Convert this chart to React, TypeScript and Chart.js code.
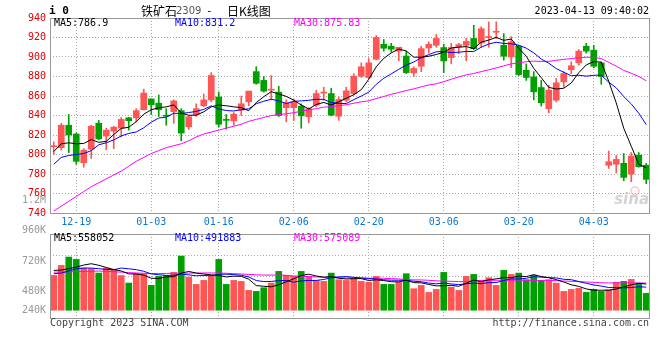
import React, { useEffect, useRef } from 'react';
import { Chart, registerables } from 'chart.js';

Chart.register(...registerables);

// ---------------- data ----------------
const dates = [
  '12-14','12-15','12-16','12-19','12-20','12-21','12-22','12-23','12-26','12-27','12-28','12-29','12-30',
  '01-03','01-04','01-05','01-06','01-09','01-10','01-11','01-12','01-13','01-16','01-17','01-18','01-19','01-20','01-30','01-31',
  '02-01','02-02','02-03','02-06','02-07','02-08','02-09','02-10','02-13','02-14','02-15','02-16','02-17','02-20','02-21','02-22','02-23','02-24','02-27','02-28',
  '03-01','03-02','03-03','03-06','03-07','03-08','03-09','03-10','03-13','03-14','03-15','03-16','03-17','03-20','03-21','03-22','03-23','03-24','03-27','03-28','03-29','03-30','03-31',
  '04-03','04-04','04-06','04-07','04-10','04-11','04-12','04-13',
];
const shownDates = ['12-19', '01-03', '01-16', '02-06', '02-20', '03-06', '03-20', '04-03'];

const openP = [808,807,830,821,791.5,805.5,832,819,824,827, 837.6,837.6,846,857,852.6,840,844,845,828.4,841, 850,856,859,836,834.6,845.5,854,885,876,866, 864,848,848,849.6,838.7,850.6,863,862.5,839.3,855.7, 862.5,880.3,879,897.7,913,911,906,901,883.7,890.5, 909.3,912,909.7,899.4,910.3,912,919,914.4,920,925.4, 912,900,911,886.4,879.6,868.7,847,855.7,874.5,887, 894,911,907,894,789,790,791,780,799.4,789];
const highP = [813,832,841,822,806,830,835,827,829,838, 838,847,867,857,861,847,856,847,840,852, 862,884,864,841,843,860,865,890,880,881, 870,856,857,852,848,866,869,868,859,869, 883,894,898.4,922,918,914,910,906,890,911, 915.5,923,913,914,914,919,932.5,931,936,936, 924,921,912,893,885,876,871,878,885,895, 907.6,914,912,895,803.5,799,801,802,802,791];
const lowP = [800,804.5,802,790,787,796,815,805,806,818, 825,833.5,845.5,841,839,830,832,814,825.7,839, 849,854,828,826,830,840,850,872,864,856, 839,833.5,835,827,832.5,849,855.7,839.7,835,854, 861,879,878,897,906,905,896,883,880,885, 904,910,884,893,903.5,896,907.6,910,910,919, 896.7,889,881,876,856,849.6,842.7,854,869,883, 891.6,904,889,872,785.7,781,773,772,787,770];
const closeP = [809,830,820,793,804.5,829,816,825,828,836, 834.6,845,863,851,846,839.3,855,822,838.7,847, 856,881,831,835,841.4,852,865,873,865,867, 840,853,854,839.7,847,862.5,864,840.4,856.4,865.3, 880.3,890,894,920,909,908,910,884,888.2,908.6, 913,919,896,909.7,912.7,916,908.6,929,920.6,926.4, 900.8,915.5,882,879,864.3,853,866,873.5,883,891, 906,906,890.5,880,792.6,795,776.5,798.4,787.4,774.5];

const volume = [
  743000,956000,1134000,1084000,899000,886000,792000,899000,865000,740000,
  579000,779000,779000,530000,722000,743000,807000,1155000,707000,551000,
  636000,728000,1084000,551000,636000,615000,423000,402000,480000,579000,
  828000,743000,722000,828000,722000,636000,615000,792000,651000,636000,
  673000,615000,600000,722000,551000,551000,600000,779000,459000,530000,
  380000,444000,807000,493000,423000,722000,764000,636000,694000,530000,
  850000,764000,792000,651000,743000,636000,651000,579000,402000,444000,
  466000,380000,444000,402000,438000,594000,615000,658000,566000,359000,
];

// moving-average values before enough history exists
const ma5Head = [803, 811, 812, 811];
const ma10Head = [790, 797, 799, 800, 801, 804, 810, 812, 815];
const ma30Head = [742,747,752,757,762,767,771,775,779,783,788,793,797,801,804,807,809,811,814,818,821,823,825,827,829,831,834,836,838];
const vma5Head = [850000, 856000, 886000, 920000];
const vma10Head = [779000, 792000, 835000, 886000, 899000, 899000, 886000, 871000, 865000];
const vma30Head = [813000,816000,820000,824000,828000,832000,835000,830000,822000,812000,803000,795000,788000,782000,782000,785000,788000,790000,792000,793000,795000,795000,793000,788000,780000,772000,764000,756000,750000];

const priceTicks = { min: 740, max: 940, step: 20 };
const maTexts = ['MA5:786.9', 'MA10:831.2', 'MA30:875.83'];
const volMaTexts = ['MA5:558052', 'MA10:491883', 'MA30:575089'];
const volAxisLabels = ['1.2M', '960K', '720K', '480K', '240K'];
const symbolText = 'i 0';
const titleParts = ['铁矿石', '2309', '-', '日K线图'];
const stampText = '2023-04-13 09:40:02';
const copyrightText = 'Copyright 2023 SINA.COM';
const urlText = 'http://finance.sina.com.cn';

// ---------------- styles ----------------
const UP = '#ff5555';
const DOWN = '#00a000';
const MA_COLORS = ['#000000', '#0000ff', '#ff00ff'];
const GRID = '#a8a8a8';
const MONO = '"DejaVu Sans Mono", monospace';
const mono = (size: number, bold = false) => `${bold ? 'bold ' : ''}${size}px ${MONO}`;

function movingAvg(src: number[], n: number, head: number[]) {
  return src.map((_, i) => {
    if (i < n - 1) return head[i];
    let s = 0;
    for (let k = i - n + 1; k <= i; k++) s += src[k];
    return s / n;
  });
}

const candleColors = closeP.map((c, i) => (c >= openP[i] ? UP : DOWN));

function drawFrame(ctx: CanvasRenderingContext2D, a: any) {
  const x0 = Math.round(a.left) + 0.5;
  const y0 = Math.round(a.top) + 0.5;
  const x1 = Math.round(a.right) - 0.5;
  const y1 = Math.round(a.bottom) + 0.5;
  ctx.save();
  ctx.setLineDash([]);
  ctx.strokeStyle = '#999';
  ctx.lineWidth = 1;
  ctx.strokeRect(x0, y0, x1 - x0, y1 - y0);
  ctx.restore();
}

const legendOffsets = [4, 125, 244];

const priceDecor = {
  id: 'priceDecor',
  beforeDatasetsDraw(chart: any) {
    const { ctx, chartArea: a } = chart;
    ctx.save();
    ctx.strokeStyle = 'rgba(235,130,130,0.45)';
    ctx.lineWidth = 1.5;
    ctx.beginPath();
    ctx.arc(a.right - 15, a.bottom - 22, 4, 0, Math.PI * 2);
    ctx.stroke();
    ctx.fillStyle = 'rgba(175,175,175,0.55)';
    ctx.font = 'italic bold 15px "DejaVu Sans"';
    ctx.textAlign = 'right';
    ctx.textBaseline = 'alphabetic';
    ctx.fillText('sina', a.right - 1, a.bottom - 9);
    ctx.restore();
  },
  afterDraw(chart: any) {
    const { ctx, chartArea: a } = chart;
    drawFrame(ctx, a);
    ctx.save();
    ctx.textBaseline = 'middle';
    ctx.textAlign = 'left';
    ctx.fillStyle = '#000';
    ctx.font = mono(11, true);
    ctx.fillText(symbolText, 49, 11);
    ctx.font = '12px "Noto Sans CJK SC"';
    ctx.fillText(titleParts[0], 141, 11);
    ctx.fillStyle = '#555';
    ctx.font = '10px "DejaVu Sans"';
    ctx.fillText(titleParts[1], 176, 11.5);
    ctx.fillStyle = '#000';
    ctx.font = mono(11);
    ctx.fillText(titleParts[2], 206, 11);
    ctx.font = '12px "Noto Sans CJK SC"';
    ctx.fillText(titleParts[3], 227, 11);
    ctx.font = mono(10);
    ctx.textAlign = 'right';
    ctx.fillText(stampText, 649, 11.5);
    ctx.textAlign = 'left';
    maTexts.forEach((t, k) => {
      ctx.fillStyle = MA_COLORS[k];
      ctx.fillText(t, a.left + legendOffsets[k], a.top + 5.5);
    });
    ctx.restore();
  },
};

const volDecor = {
  id: 'volDecor',
  afterDraw(chart: any) {
    const { ctx, chartArea: a } = chart;
    drawFrame(ctx, a);
    ctx.save();
    ctx.textBaseline = 'middle';
    ctx.font = mono(10);
    ctx.fillStyle = '#999';
    ctx.textAlign = 'right';
    volAxisLabels.forEach((t, k) => {
      const y = Math.min(a.top - 34 + k * 30.5, a.bottom - 8);
      ctx.fillText(t, a.left - 4, y);
    });
    ctx.textAlign = 'left';
    volMaTexts.forEach((t, k) => {
      ctx.fillStyle = MA_COLORS[k];
      ctx.fillText(t, a.left + legendOffsets[k], a.top + 4.5);
    });
    ctx.fillStyle = '#444';
    ctx.fillText(copyrightText, a.left, a.bottom + 5.5);
    ctx.textAlign = 'right';
    ctx.fillText(urlText, a.right - 1, a.bottom + 5.5);
    ctx.restore();
  },
};

const filterDateTicks = (scale: any) => {
  scale.ticks = scale.ticks.filter((t: any) => shownDates.includes(dates[t.value]));
};

function lineDs(data: number[], color: string) {
  return {
    type: 'line' as const,
    data,
    borderColor: color,
    borderWidth: 1,
    pointRadius: 0,
    tension: 0,
    fill: false,
    order: 0,
  };
}

function xScale(showTicks: boolean) {
  return {
    type: 'category' as const,
    offset: true,
    grid: { offset: false, color: GRID, drawTicks: false, lineWidth: 1 },
    border: { display: false, dash: [1, 2] },
    ticks: {
      display: showTicks,
      autoSkip: false,
      maxRotation: 0,
      minRotation: 0,
      color: '#0a78d0',
      font: { family: MONO, size: 10 },
      padding: 3,
    },
    afterBuildTicks: filterDateTicks,
    afterFit: (s: any) => {
      s.height = showTicks ? 20 : 0;
    },
  };
}

export default function App() {
  const priceRef = useRef<HTMLCanvasElement>(null);
  const volRef = useRef<HTMLCanvasElement>(null);

  useEffect(() => {
    document.body.style.margin = '0';
    const ma5 = movingAvg(closeP, 5, ma5Head);
    const ma10 = movingAvg(closeP, 10, ma10Head);
    const ma30 = movingAvg(closeP, 30, ma30Head);
    const vma5 = movingAvg(volume, 5, vma5Head);
    const vma10 = movingAvg(volume, 10, vma10Head);
    const vma30 = movingAvg(volume, 30, vma30Head);

    const bodies = openP.map((o, i) => [o, closeP[i]]);
    const wicks = lowP.map((l, i) => [l, highP[i]]);

    const priceChart = new Chart(priceRef.current as HTMLCanvasElement, {
      type: 'bar',
      data: {
        labels: dates,
        datasets: [
          lineDs(ma5, MA_COLORS[0]),
          lineDs(ma10, MA_COLORS[1]),
          lineDs(ma30, MA_COLORS[2]),
          {
            type: 'bar',
            data: bodies as any,
            backgroundColor: candleColors,
            barThickness: 6,
            grouped: false,
            minBarLength: 1,
            borderWidth: 0,
            order: 1,
          },
          {
            type: 'bar',
            data: wicks as any,
            backgroundColor: candleColors,
            barThickness: 1,
            grouped: false,
            borderWidth: 0,
            order: 2,
          },
        ] as any,
      },
      options: {
        responsive: false,
        animation: false,
        events: [],
        layout: { padding: { top: 18, left: 0, right: 10, bottom: 127 } },
        plugins: { legend: { display: false }, tooltip: { enabled: false }, title: { display: false } },
        scales: {
          x: xScale(true) as any,
          y: {
            type: 'linear',
            min: priceTicks.min,
            max: priceTicks.max,
            ticks: {
              stepSize: priceTicks.step,
              color: '#e00000',
              font: { family: MONO, size: 10 },
              padding: 4,
            },
            grid: { color: GRID, drawTicks: false },
            border: { display: false, dash: [1, 2] },
            afterFit: (s: any) => {
              s.width = 50;
            },
          } as any,
        },
      },
      plugins: [priceDecor],
    });

    const volChart = new Chart(volRef.current as HTMLCanvasElement, {
      type: 'bar',
      data: {
        labels: dates,
        datasets: [
          lineDs(vma5, MA_COLORS[0]),
          lineDs(vma10, MA_COLORS[1]),
          lineDs(vma30, MA_COLORS[2]),
          {
            type: 'bar',
            data: volume,
            backgroundColor: candleColors,
            barThickness: 6,
            borderWidth: 0,
            order: 1,
          },
        ] as any,
      },
      options: {
        responsive: false,
        animation: false,
        events: [],
        layout: { padding: { top: 234, left: 0, right: 10, bottom: 42 } },
        plugins: { legend: { display: false }, tooltip: { enabled: false } },
        scales: {
          x: xScale(false) as any,
          y: {
            type: 'linear',
            min: -166000,
            max: 1626000,
            ticks: { display: false },
            grid: { color: GRID, drawTicks: false },
            border: { display: false, dash: [1, 2] },
            afterBuildTicks: (s: any) => {
              s.ticks = [1, 2, 3].map((k) => ({ value: s.min + ((s.max - s.min) * k) / 4 }));
            },
            afterFit: (s: any) => {
              s.width = 50;
            },
          } as any,
        },
      },
      plugins: [volDecor],
    });

    return () => {
      priceChart.destroy();
      volChart.destroy();
    };
  }, []);

  return (
    <div style={{ position: 'relative', width: 660, height: 360, background: '#fff' }}>
      <canvas ref={volRef} width={660} height={360} style={{ position: 'absolute', left: 0, top: 0 }} />
      <canvas ref={priceRef} width={660} height={360} style={{ position: 'absolute', left: 0, top: 0 }} />
    </div>
  );
}
